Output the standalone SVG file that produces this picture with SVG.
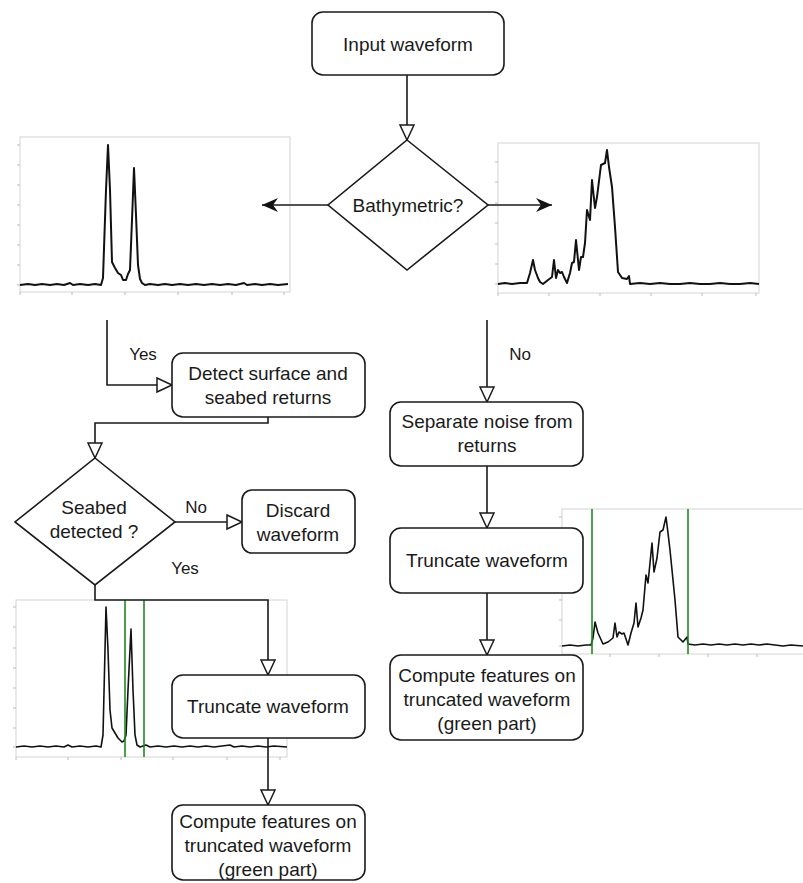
<svg xmlns="http://www.w3.org/2000/svg" width="803" height="883" viewBox="0 0 803 883">
<defs>
<style>
.box{fill:#fff;stroke:#1a1a1a;stroke-width:1.6}
.lbl{font-family:"Liberation Sans",Arial,sans-serif;font-size:19px;fill:#1a1a1a;text-anchor:middle}
.edge{fill:none;stroke:#1a1a1a;stroke-width:1.6}
.frame{fill:#fff;stroke:#d4d4d4;stroke-width:1}
.wave{fill:none;stroke:#111;stroke-width:2;stroke-linejoin:round}
.wave2{fill:none;stroke:#111;stroke-width:1.6;stroke-linejoin:round}
.tick{stroke:#bbb;stroke-width:1}
.green{stroke:#1e8a1e;stroke-width:1.6}
</style>
<marker id="open" markerUnits="userSpaceOnUse" markerWidth="18" markerHeight="18" viewBox="0 0 18 18" refX="16" refY="8" orient="auto">
<path d="M1,1 L16,8 L1,15 Z" fill="#fff" stroke="#1a1a1a" stroke-width="1.5"/>
</marker>
<marker id="solid" markerUnits="userSpaceOnUse" markerWidth="18" markerHeight="16" viewBox="0 0 18 16" refX="16" refY="7" orient="auto">
<path d="M0,0 L16,7 L0,14 L5,7 Z" fill="#111"/>
</marker>
</defs>

<!-- charts -->
<g id="chart-top-left">
<rect class="frame" x="20" y="137" width="270" height="155"/>
<g class="tick">
<path d="M17,145h3M17,165h3M17,185h3M17,205h3M17,225h3M17,245h3M17,265h3M17,285h3M20,292v3M72,292v3M125,292v3M178,292v3M232,292v3M284,292v3"/>
</g>
<polyline class="wave" points="20,285 28,284 35,285 42,284 50,285 57,284 64,285 70,283 73,285 80,284 88,285 95,284 101,285 103,278 106,190 108,145 110,190 112,262 115,268 118,273 121,275 123,280 126,280 128,274 130,270 132,220 134,168 136,215 138,265 140,279 142,283 145,285 150,284 158,285 165,284 172,285 180,284 188,285 196,284 204,285 212,284 220,285 228,284 236,285 244,283 247,285 255,284 262,285 270,284 278,285 288,284"/>
</g>

<g id="chart-top-right">
<rect class="frame" x="498" y="143" width="261" height="150"/>
<g class="tick">
<path d="M495,162h3M495,182h3M495,203h3M495,223h3M495,244h3M495,264h3M495,284h3M498,293v3M549,293v3M600,293v3M651,293v3M702,293v3M756,293v3"/>
</g>
<polyline class="wave" points="498,284 505,283 512,284 520,283 527,283 530,273 533,260 535,270 538,278 540,282 543,284 548,280 552,277 554,260 556,278 558,270 560,273 562,272 564,277 567,283 570,273 572,263 574,262 576,240 578,260 579,270 581,257 583,257 585,243 587,210 590,220 592,180 595,208 597,197 601,165 605,163 607,150 609,167 612,187 615,227 618,272 622,278 627,279 629,276 630,284 640,283 650,284 660,283 670,284 680,284 690,283 700,284 710,284 720,283 730,284 740,284 750,283 759,284"/>
</g>

<g id="chart-bottom-left">
<rect class="frame" x="16" y="600" width="271" height="157"/>
<g class="tick">
<path d="M13,607h3M13,627h3M13,648h3M13,668h3M13,688h3M13,708h3M13,728h3M13,747h3M16,757v3M68,757v3M121,757v3M173,757v3M227,757v3M280,757v3"/>
</g>
<polyline class="wave2" points="16,747 24,746 32,747 40,746 48,747 56,746 64,747 68,745 72,747 80,746 88,747 96,746 101,747 103,735 105,650 106,607 108,650 110,710 112,728 115,733 118,738 122,742 124,741 126,735 128,690 131,629 133,690 135,735 137,745 140,747 146,745 150,747 158,746 166,747 174,746 182,747 190,746 198,747 206,746 214,747 222,746 230,745 234,747 242,746 250,747 258,746 266,747 274,746 287,747"/>
<line class="green" x1="125" y1="600" x2="125" y2="757"/>
<line class="green" x1="144" y1="600" x2="144" y2="757"/>
</g>

<g id="chart-bottom-right">
<rect class="frame" x="562" y="509" width="250" height="145"/>
<g class="tick">
<path d="M559,517h3M559,537h3M559,557h3M559,578h3M559,600h3M559,620h3M559,646h3M562,654v3M610,654v3M659,654v3M708,654v3M757,654v3"/>
</g>
<polyline class="wave2" points="562,646 570,645 578,646 586,645 591,645 593,638 595,622 598,633 603,644 608,642 613,638 615,623 617,637 619,632 622,634 624,633 628,645 631,633 634,623 636,603 638,627 641,618 643,610 646,575 648,583 652,543 654,572 657,558 660,532 663,530 666,517 668,533 670,550 675,600 678,637 683,642 687,637 688,644 695,645 703,644 711,645 719,644 727,645 735,644 743,645 751,644 759,645 767,644 775,645 783,646 791,645 803,646"/>
<line class="green" x1="592" y1="509" x2="592" y2="654"/>
<line class="green" x1="688" y1="509" x2="688" y2="654"/>
</g>

<!-- connectors -->
<g id="connectors">
<path class="edge" d="M407,75 V140" marker-end="url(#open)"/>
<path class="edge" d="M328,205 H262" marker-end="url(#solid)"/>
<path class="edge" d="M488,205 H552" marker-end="url(#solid)"/>
<path class="edge" d="M107,320 V385 H172" marker-end="url(#open)"/>
<path class="edge" d="M268,417 V423 H95 V458" marker-end="url(#open)"/>
<path class="edge" d="M175,522 H242" marker-end="url(#open)"/>
<path class="edge" d="M95,585 V600 H268 V675" marker-end="url(#open)"/>
<path class="edge" d="M268,738 V805" marker-end="url(#open)"/>
<path class="edge" d="M487,320 V402" marker-end="url(#open)"/>
<path class="edge" d="M487,466 V528" marker-end="url(#open)"/>
<path class="edge" d="M487,593 V655" marker-end="url(#open)"/>
<text class="lbl" x="143" y="360" style="font-size:17px">Yes</text>
<text class="lbl" x="196" y="513" style="font-size:17px">No</text>
<text class="lbl" x="185" y="574" style="font-size:17px">Yes</text>
<text class="lbl" x="520" y="360" style="font-size:17px">No</text>
</g>

<!-- nodes -->
<g id="input">
<rect class="box" x="312" y="12" width="192" height="63" rx="11"/>
<text class="lbl" x="408" y="51">Input waveform</text>
</g>
<g id="bathymetric">
<polygon class="box" points="407,140 488,205 407,270 328,205"/>
<text class="lbl" x="408" y="212">Bathymetric?</text>
</g>
<g id="detect">
<rect class="box" x="172" y="353" width="193" height="64" rx="11"/>
<text class="lbl" x="268" y="380">Detect surface and</text>
<text class="lbl" x="268" y="404">seabed returns</text>
</g>
<g id="seabed">
<polygon class="box" points="95,458 175,522 95,585 15,522"/>
<text class="lbl" x="94" y="514">Seabed</text>
<text class="lbl" x="94" y="538">detected ?</text>
</g>
<g id="discard">
<rect class="box" x="242" y="490" width="113" height="63" rx="10"/>
<text class="lbl" x="298" y="517">Discard</text>
<text class="lbl" x="298" y="541">waveform</text>
</g>
<g id="truncate-left">
<rect class="box" x="172" y="675" width="193" height="63" rx="11"/>
<text class="lbl" x="268" y="713">Truncate waveform</text>
</g>
<g id="compute-left">
<rect class="box" x="172" y="805" width="193" height="75" rx="11"/>
<text class="lbl" x="268" y="828">Compute features on</text>
<text class="lbl" x="268" y="852">truncated waveform</text>
<text class="lbl" x="268" y="876">(green part)</text>
</g>
<g id="separate">
<rect class="box" x="390" y="402" width="193" height="64" rx="11"/>
<text class="lbl" x="487" y="428">Separate noise from</text>
<text class="lbl" x="487" y="452">returns</text>
</g>
<g id="truncate-right">
<rect class="box" x="390" y="528" width="193" height="65" rx="11"/>
<text class="lbl" x="487" y="567">Truncate waveform</text>
</g>
<g id="compute-right">
<rect class="box" x="390" y="655" width="193" height="85" rx="11"/>
<text class="lbl" x="487" y="682">Compute features on</text>
<text class="lbl" x="487" y="706">truncated waveform</text>
<text class="lbl" x="487" y="730">(green part)</text>
</g>
</svg>
